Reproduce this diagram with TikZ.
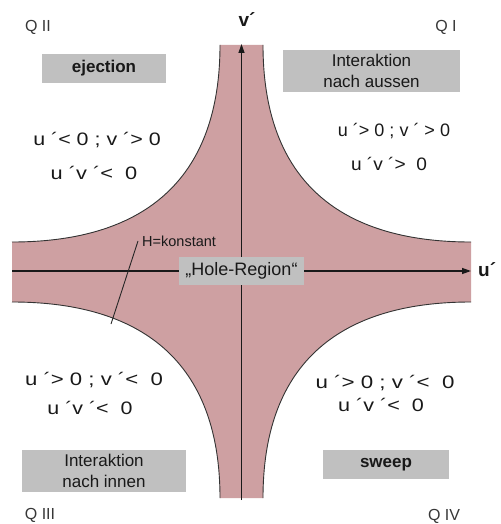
\documentclass[tikz,border=0pt]{standalone}
\usepackage{fontspec}
\setmainfont{Liberation Sans}
\usetikzlibrary{arrows.meta}
\definecolor{holefill}{RGB}{206,160,162}
\definecolor{boxgray}{RGB}{192,192,192}
\definecolor{txt}{RGB}{25,25,25}
\definecolor{qtxt}{RGB}{55,55,55}
\newcommand\widetext[2]{\scalebox{#1}[1]{#2}}
\tikzset{
  labelbox/.style={fill=boxgray, text=txt, inner sep=0pt, align=center},
  cond/.style={text=txt, inner sep=0pt, font=\fontsize{18}{21}\selectfont},
  qlabel/.style={text=qtxt, inner sep=0pt, font=\fontsize{16}{19}\selectfont},
  axis/.style={line width=1.3pt, draw=black!90, -{Triangle[length=9pt,width=6pt]}},
  boundary/.style={line width=0.9pt, draw=black!80}
}
\begin{document}
\begin{tikzpicture}[x=1pt,y=-1pt]
\useasboundingbox (0,0) rectangle (500,524);
\fill[white] (0,0) rectangle (500,524);
% shaded region
\fill[holefill] (220,45) -- (263,45)
  .. controls (263,175) and (333.7,242) .. (471,242) -- (471,302)
  .. controls (333.7,302) and (263,368.6) .. (263,498) -- (220,498)
  .. controls (220,368.6) and (149.3,302) .. (12,302) -- (12,242)
  .. controls (149.3,242) and (220,175) .. cycle;
\draw[boundary] (263,45) .. controls (263,175) and (333.7,242) .. (471,242);
\draw[boundary] (471,302) .. controls (333.7,302) and (263,368.6) .. (263,498);
\draw[boundary] (220,498) .. controls (220,368.6) and (149.3,302) .. (12,302);
\draw[boundary] (12,242) .. controls (149.3,242) and (220,175) .. (220,45);
% axes
\coordinate (vbot) at (241.5,500);
\coordinate (vtop) at (241.5,44);
\coordinate (hleft) at (12,271);
\coordinate (hright) at (471,271);
\draw[axis] (vbot) -- (vtop);
\draw[axis] (hleft) -- (hright);
\node[text=txt, inner sep=0pt, font=\bfseries\fontsize{19}{22}\selectfont] (vlab) at (247,20) {v´};
\node[text=txt, inner sep=0pt, font=\bfseries\fontsize{19}{22}\selectfont, anchor=west] (ulab) at (478,270) {u´};
% hole region
\node[labelbox, minimum width=125pt, minimum height=28pt, font=\fontsize{18}{21}\selectfont] (hole) at (241.5,271) {„Hole-Region“};
% H=konstant
\node[text=txt, inner sep=0pt, font=\fontsize{14.5}{17}\selectfont, anchor=west] (hk) at (142,241) {H=konstant};
\coordinate (hkfoot) at (111,324);
\draw[line width=0.9pt, black!85] (hk.west) ++(-4,0) coordinate (hkstart) (hkstart) -- (hkfoot);
% quadrant labels
\node[qlabel] (q2) at (38,27) {Q II};
\node[qlabel] (q1) at (446,27) {Q I};
\node[qlabel] (q3) at (40,515) {Q III};
\node[qlabel] (q4) at (444,516) {Q IV};
% boxes
\node[labelbox, minimum width=124pt, minimum height=29pt, font=\bfseries\fontsize{17}{20}\selectfont] (ej) at (104,68.5) {ejection};
\node[labelbox, minimum width=177pt, minimum height=42pt, font=\fontsize{17}{21}\selectfont] (aus) at (371.5,71) {Interaktion\\nach aussen};
\node[labelbox, minimum width=164pt, minimum height=42pt, font=\fontsize{17}{21}\selectfont] (inn) at (104,471) {Interaktion\\nach innen};
\node[labelbox, minimum width=126pt, minimum height=29pt, font=\bfseries\fontsize{17}{20}\selectfont] (sw) at (386,464.5) {sweep};
% conditions
\node[cond] (c2a) at (97,140) {\widetext{1.19}{u ´< 0 ; v ´> 0}};
\node[cond] (c2b) at (94,173) {\widetext{1.21}{u ´v ´<\ \ 0}};
\node[cond] (c1a) at (394,131) {\widetext{1.0}{u ´>\ 0 ; v ´ > 0}};
\node[cond] (c1b) at (389,164) {\widetext{1.06}{u ´v ´>\ \ 0}};
\node[cond] (c3a) at (94,380) {\widetext{1.23}{u ´> 0 ; v ´<\ \ 0}};
\node[cond] (c3b) at (90,408) {\widetext{1.19}{u ´v ´<\ \ 0}};
\node[cond] (c4a) at (385,383) {\widetext{1.24}{u ´>\ 0 ; v ´<\ \ 0}};
\node[cond] (c4b) at (381,405) {\widetext{1.2}{u ´v ´<\ \ 0}};
\end{tikzpicture}
\end{document}
